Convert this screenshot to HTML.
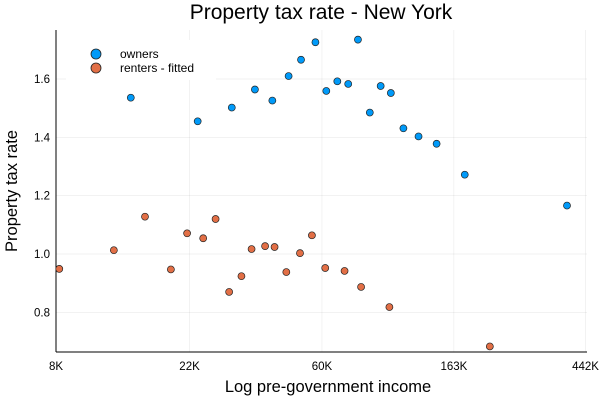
<!DOCTYPE html>
<html><head><meta charset="utf-8"><style>
body{margin:0;background:#fff;font-family:"Liberation Sans","DejaVu Sans",sans-serif}
svg text{font-family:"Liberation Sans","DejaVu Sans",sans-serif}
</style></head><body>
<svg id="chart" width="600" height="400" xmlns="http://www.w3.org/2000/svg">
<rect width="600" height="400" fill="#fff"/>
<text x="321" y="19" font-size="21" text-anchor="middle" fill="#000">Property tax rate - New York</text>
<g id="grid"></g>
<g id="axes"></g>
<g id="points"></g>
<text x="328" y="392" font-size="16.5" text-anchor="middle">Log pre-government income</text>
<text transform="translate(17,191) rotate(-90)" font-size="16.5" text-anchor="middle">Property tax rate</text>
<g>
<rect x="66" y="40" width="150" height="40" fill="#fff"/>
<g><circle cx="96" cy="54" r="5" fill="#009AF9" stroke="#222" stroke-width="0.8"/><text x="120" y="58" font-size="12">owners</text></g>
<g><circle cx="96" cy="68" r="5" fill="#E26F46" stroke="#222" stroke-width="0.8"/><text x="120" y="72" font-size="12">renters - fitted</text></g>
</g>
</svg>
<script>
const xTickValues=[8,22,60,163,442];
const xTickLabels=["8K","22K","60K","163K","442K"];
const yTickValues=[0.8,1.0,1.2,1.4,1.6];
const yTickLabels=["0.8","1.0","1.2","1.4","1.6"];
const ownersIncome=[14.1,23.4,30.3,36.1,41.2,46.6,51.2,57.1,62.0,67.4,73.2,78.8,86.2,93.6,101.1,111.2,124.7,143,177,384];
const ownersRate=[1.536,1.455,1.502,1.564,1.526,1.610,1.666,1.726,1.559,1.592,1.583,1.735,1.485,1.576,1.552,1.431,1.403,1.378,1.272,1.166];
const rentersIncome=[8.2,12.4,15.7,19.1,21.6,24.4,26.8,29.7,32.6,35.2,39.0,41.9,45.8,50.8,55.6,61.5,71.2,80.7,100,214];
const rentersRate=[0.949,1.013,1.128,0.947,1.071,1.054,1.120,0.870,0.924,1.017,1.027,1.024,0.938,1.003,1.064,0.952,0.942,0.887,0.818,0.683];

const L=56,R=587,T=30,B=352;
const xMin=Math.log(8),pxPerE=132;
function sx(v){return L+(Math.log(v)-xMin)*pxPerE;}
const yMin=0.664,yMax=1.768;
function sy(v){return B-(v-yMin)/(yMax-yMin)*(B-T);}
const NS="http://www.w3.org/2000/svg";
function mk(tag,attrs,parent){const e=document.createElementNS(NS,tag);for(const k in attrs)e.setAttribute(k,attrs[k]);parent.appendChild(e);return e;}
const grid=document.getElementById('grid'),axes=document.getElementById('axes'),pts=document.getElementById('points');
xTickValues.forEach((v,i)=>{
  const x=sx(v);
  const g=mk('line',{x1:x,x2:x,y1:T,y2:B,stroke:'#000','stroke-opacity':0.1,'stroke-width':0.5},grid);
  
  
  const t=mk('text',{x:x,y:B+18,'font-size':11.5,'text-anchor':'middle'},axes);
  t.textContent=xTickLabels[i];
  
  
});
yTickValues.forEach((v,i)=>{
  const y=sy(v);
  const g=mk('line',{x1:L,x2:R,y1:y,y2:y,stroke:'#000','stroke-opacity':0.1,'stroke-width':0.5},grid);
  
  
  const t=mk('text',{x:L-6,y:y+4,'font-size':11.5,'text-anchor':'end'},axes);
  t.textContent=yTickLabels[i];
  
  
});
const xa=mk('line',{x1:L,x2:R,y1:B,y2:B,stroke:'#000','stroke-width':1},axes);


const ya=mk('line',{x1:L,x2:L,y1:T,y2:B,stroke:'#000','stroke-width':1},axes);


ownersIncome.forEach((v,i)=>{
  const c=mk('circle',{cx:sx(v),cy:sy(ownersRate[i]),r:3.5,fill:'#009AF9',stroke:'#222','stroke-width':0.7},pts);
  
  
});
rentersIncome.forEach((v,i)=>{
  const c=mk('circle',{cx:sx(v),cy:sy(rentersRate[i]),r:3.5,fill:'#E26F46',stroke:'#222','stroke-width':0.7},pts);
  
  
});
</script>
</body></html>
